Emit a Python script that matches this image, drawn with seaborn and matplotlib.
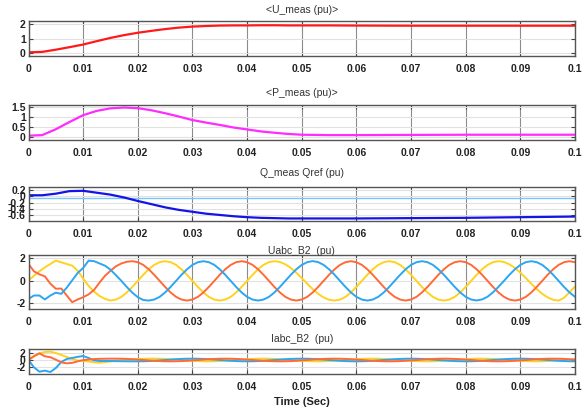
import numpy as np
import pandas as pd
import matplotlib
matplotlib.use('Agg')
import matplotlib.pyplot as plt
import seaborn as sns

# slow signals
t_slow = [0, 0.0025, 0.005, 0.0075, 0.01, 0.0125, 0.015, 0.0175, 0.02, 0.0225, 0.025, 0.0275, 0.03,
          0.0325, 0.035, 0.0375, 0.04, 0.0425, 0.045, 0.0475, 0.05, 0.055, 0.06, 0.07, 0.08, 0.09, 0.1]
u_meas = [0.07, 0.1, 0.25, 0.42, 0.6, 0.83, 1.05, 1.24, 1.4, 1.53, 1.65, 1.75, 1.82,
          1.86, 1.89, 1.9, 1.9, 1.91, 1.91, 1.9, 1.9, 1.9, 1.89, 1.88, 1.88, 1.88, 1.88]
p_meas = [0.05, 0.08, 0.38, 0.75, 1.1, 1.32, 1.45, 1.49, 1.46, 1.35, 1.2, 1.03, 0.85,
          0.72, 0.6, 0.47, 0.37, 0.27, 0.2, 0.14, 0.1, 0.08, 0.08, 0.09, 0.1, 0.1, 0.1]
q_meas = [0.03, 0.03, 0.08, 0.16, 0.17, 0.11, 0.05, -0.04, -0.15, -0.25, -0.35, -0.43, -0.49,
          -0.55, -0.59, -0.63, -0.66, -0.68, -0.69, -0.7, -0.7, -0.7, -0.7, -0.69, -0.68, -0.66, -0.64]
t_ref = [0, 0.1]
q_ref = [-0.07, -0.07]

# three phase traces, one sample per ms
t_wave = np.round(np.arange(101) * 0.001, 3)
ua_blue = [-1.6, -1.3, -1.3, -1.65, -1.3, -1.05, -1.15, -0.6, 0.05, 0.7, 1.15, 1.8, 1.75, 1.55, 1.35, 1.0, 0.5, 0.0, -0.55, -1.05, -1.45, -1.7, -1.75,
           -1.66, -1.42, -1.03, -0.54, 0.0, 0.54, 1.03, 1.42, 1.66, 1.75,
           1.66, 1.42, 1.03, 0.54, 0.0, -0.54, -1.03, -1.42, -1.66, -1.75,
           -1.66, -1.42, -1.03, -0.54, 0.0, 0.54, 1.03, 1.42, 1.66, 1.76,
           1.67, 1.42, 1.03, 0.54, 0.0, -0.54, -1.03, -1.42, -1.66, -1.75,
           -1.66, -1.42, -1.03, -0.54, 0.0, 0.54, 1.03, 1.42, 1.66, 1.75,
           1.66, 1.42, 1.03, 0.54, 0.0, -0.54, -1.03, -1.42, -1.66, -1.74,
           -1.65, -1.41, -1.02, -0.53, 0.0, 0.54, 1.03, 1.42, 1.66, 1.75,
           1.66, 1.42, 1.03, 0.54, 0.0, -0.54, -1.03, -1.42]
ua_orange = [1.5, 0.85, 0.58, 0.4, -0.25, -0.7, -0.68, -1.3, -1.9, -1.65, -1.45, -1.2, -0.8, -0.15, 0.45, 0.9, 1.3, 1.55, 1.7, 1.75,
             1.66, 1.42, 1.03, 0.54, 0.0, -0.54, -1.03, -1.42, -1.66, -1.75,
             -1.66, -1.42, -1.03, -0.54, 0.0, 0.54, 1.03, 1.42, 1.66, 1.75,
             1.66, 1.42, 1.03, 0.54, 0.0, -0.54, -1.03, -1.42, -1.66, -1.75,
             -1.66, -1.42, -1.03, -0.54, 0.0, 0.54, 1.03, 1.42, 1.66, 1.75,
             1.66, 1.42, 1.03, 0.54, 0.0, -0.54, -1.03, -1.42, -1.66, -1.75,
             -1.66, -1.42, -1.03, -0.54, 0.0, 0.54, 1.03, 1.42, 1.66, 1.75,
             1.66, 1.42, 1.03, 0.54, 0.0, -0.54, -1.03, -1.42, -1.66, -1.75,
             -1.66, -1.42, -1.03, -0.54, 0.0, 0.54, 1.03, 1.42, 1.66, 1.75,
             1.66]
ua_yellow = [0.05, 0.45, 0.85, 1.2, 1.5, 1.8, 1.65, 1.5, 1.35, 0.9, 0.2, -0.45, -0.95, -1.35, -1.6, -1.75,
             -1.66, -1.42, -1.03, -0.54, 0.0, 0.54, 1.03, 1.42, 1.66, 1.75,
             1.66, 1.42, 1.03, 0.54, 0.0, -0.54, -1.03, -1.42, -1.66, -1.75,
             -1.66, -1.42, -1.03, -0.54, 0.0, 0.54, 1.03, 1.42, 1.66, 1.75,
             1.68, 1.47, 1.15, 0.73, 0.25, -0.25, -0.73, -1.15, -1.47, -1.68, -1.75,
             -1.66, -1.42, -1.03, -0.54, 0.0, 0.54, 1.03, 1.42, 1.66, 1.75,
             1.66, 1.42, 1.03, 0.54, 0.0, -0.54, -1.03, -1.42, -1.66, -1.75,
             -1.66, -1.42, -1.03, -0.54, 0.0, 0.54, 1.03, 1.42, 1.66, 1.75,
             1.68, 1.47, 1.15, 0.73, 0.25, -0.25, -0.73, -1.15, -1.47, -1.68, -1.75,
             -1.5, -1.0, -0.5]

ia_yellow = [0.0, 1.0, 2.0, 2.4, 2.5, 2.1, 1.5, 0.9, 0.3, -0.15, -0.25, -0.45, -0.7, -0.8, -0.65, -0.45, -0.25, -0.05, 0.1, 0.22, 0.3, 0.36, 0.39, 0.4,
             0.38, 0.32, 0.24, 0.12, 0.0, -0.12, -0.24, -0.32, -0.38, -0.4,
             -0.38, -0.32, -0.24, -0.12, 0.0, 0.12, 0.24, 0.32, 0.38, 0.4,
             0.38, 0.32, 0.24, 0.12, 0.0, -0.12, -0.24, -0.32, -0.38, -0.4,
             -0.38, -0.32, -0.24, -0.12, 0.0, 0.12, 0.24, 0.32, 0.38, 0.4,
             0.38, 0.32, 0.24, 0.12, 0.0, -0.12, -0.24, -0.32, -0.38, -0.4,
             -0.38, -0.32, -0.24, -0.12, 0.0, 0.12, 0.24, 0.32, 0.38, 0.4,
             0.38, 0.32, 0.24, 0.12, 0.0, -0.12, -0.24, -0.32, -0.38, -0.4,
             -0.38, -0.32, -0.24, -0.12, 0.0, 0.12, 0.24]
ia_blue = [0.0, -2.2, -3.5, -3.2, -3.6, -2.4, -0.6, 0.3, 0.6, 0.95, 1.2, 0.6, -0.1, -0.3,
           -0.3, -0.3, -0.34, -0.37, -0.39, -0.4, -0.4,
           -0.38, -0.32, -0.24, -0.12, 0.0, 0.12, 0.24, 0.32, 0.38, 0.4,
           0.38, 0.32, 0.24, 0.12, 0.0, -0.12, -0.24, -0.32, -0.38, -0.4,
           -0.38, -0.32, -0.24, -0.12, 0.0, 0.12, 0.24, 0.32, 0.38, 0.4,
           0.38, 0.32, 0.24, 0.12, 0.0, -0.12, -0.24, -0.32, -0.38, -0.4,
           -0.38, -0.32, -0.24, -0.12, 0.0, 0.12, 0.24, 0.32, 0.38, 0.4,
           0.38, 0.32, 0.24, 0.12, 0.0, -0.12, -0.24, -0.32, -0.38, -0.4,
           -0.38, -0.32, -0.24, -0.12, 0.0, 0.12, 0.24, 0.32, 0.38, 0.4,
           0.38, 0.32, 0.24, 0.12, 0.0, -0.12, -0.24, -0.32, -0.38, -0.4]
ia_orange = [0.0, 1.2, 2.0, 1.1, 0.85, 0.1, -0.7, -1.0, -0.85, -0.4, -0.05, 0.15, 0.28, 0.35, 0.38, 0.4, 0.4,
             0.38, 0.32, 0.24, 0.12, 0.0, -0.12, -0.24, -0.32, -0.38, -0.4,
             -0.38, -0.32, -0.24, -0.12, 0.0, 0.12, 0.24, 0.32, 0.38, 0.4,
             0.38, 0.32, 0.24, 0.12, 0.0, -0.12, -0.24, -0.32, -0.38, -0.4,
             -0.38, -0.32, -0.24, -0.12, 0.0, 0.12, 0.24, 0.32, 0.38, 0.4,
             0.38, 0.32, 0.24, 0.12, 0.0, -0.12, -0.24, -0.32, -0.38, -0.4,
             -0.38, -0.32, -0.24, -0.12, 0.0, 0.12, 0.24, 0.32, 0.38, 0.4,
             0.38, 0.32, 0.24, 0.12, 0.0, -0.12, -0.24, -0.32, -0.38, -0.4,
             -0.38, -0.32, -0.24, -0.12, 0.0, 0.12, 0.24, 0.32, 0.38, 0.4,
             0.38, 0.32, 0.24, 0.12]

x_ticks = [0, 0.01, 0.02, 0.03, 0.04, 0.05, 0.06, 0.07, 0.08, 0.09, 0.1]
x_labels = ['0', '0.01', '0.02', '0.03', '0.04', '0.05', '0.06', '0.07', '0.08', '0.09', '0.1']
titles = ['<U_meas (pu)>', '<P_meas (pu)>', 'Q_meas Qref (pu)', 'Uabc_B2  (pu)', 'Iabc_B2  (pu)']

sns.set_theme(style='white')
plt.rcParams['font.family'] = ['Liberation Sans Narrow', 'Liberation Sans', 'DejaVu Sans']

slow = pd.DataFrame({'t': t_slow, 'U': u_meas, 'P': p_meas, 'Q': q_meas})
ref = pd.DataFrame({'t': t_ref, 'Qref': q_ref})
wave = pd.DataFrame({'t': t_wave, 'ua_y': ua_yellow, 'ua_b': ua_blue, 'ua_o': ua_orange,
                     'ia_y': ia_yellow, 'ia_b': ia_blue, 'ia_o': ia_orange})

fig = plt.figure(figsize=(5.86, 4.09), dpi=100)
# axes boxes in pixels: top, bottom
boxes = [(21, 56), (105, 140), (187, 221), (255, 309), (349, 374)]
title_y = [10, 93, 173, 251, 339]
left, right = 28.5, 575
axes = []
for top, bot in boxes:
    ax = fig.add_axes([left / 586, 1 - bot / 409, (right - left) / 586, (bot - top) / 409])
    axes.append(ax)

yellow, blue, orange = '#ffd21f', '#2ba6f2', '#ff6a38'

sns.lineplot(data=slow, x='t', y='U', ax=axes[0], color='#ff1a1a', lw=1.6, estimator=None)
sns.lineplot(data=slow, x='t', y='P', ax=axes[1], color='#ff2bff', lw=1.6, estimator=None)
sns.lineplot(data=ref, x='t', y='Qref', ax=axes[2], color='#7cc4ff', lw=1.0, estimator=None)
sns.lineplot(data=slow, x='t', y='Q', ax=axes[2], color='#1414e6', lw=1.6, estimator=None)
for col, c in [('ua_y', yellow), ('ua_o', orange), ('ua_b', blue)]:
    sns.lineplot(data=wave, x='t', y=col, ax=axes[3], color=c, lw=1.4, estimator=None)
for col, c in [('ia_y', yellow), ('ia_b', blue), ('ia_o', orange)]:
    sns.lineplot(data=wave, x='t', y=col, ax=axes[4], color=c, lw=1.4, estimator=None)

ylims = [(-0.18, 2.2), (-0.17, 1.62), (-0.78, 0.29), (-2.5, 2.3), (-4.2, 3.3)]
yticks = [[0, 1, 2], [0, 0.5, 1, 1.5], [-0.6, -0.4, -0.2, 0, 0.2], [-2, 0, 2], [-2, 0, 2]]
ylabs = [['0', '1', '2'], ['0', '0.5', '1', '1.5'], ['-0.6', '-0.4', '-0.2', '0', '0.2'],
         ['-2', '0', '2'], ['-2', '0', '2']]

for i, ax in enumerate(axes):
    ax.set_xlim(0, 0.1)
    ax.set_ylim(*ylims[i])
    ax.set_xticks(x_ticks)
    ax.set_xticklabels(x_labels, fontsize=7.5, fontweight='bold', color='#222222')
    ax.set_yticks(yticks[i])
    ax.set_yticklabels(ylabs[i], fontsize=7.5, fontweight='bold', color='#222222')
    ax.tick_params(direction='in', length=3, width=0.8, color='#444444', top=True, right=True,
                   bottom=True, left=True, pad=6)
    ax.tick_params(axis='y', pad=2)
    ax.grid(axis='x', color='#8c8c8c', lw=0.8)
    ax.grid(axis='y', color='#e2e2e2', lw=0.8)
    for s in ax.spines.values():
        s.set_color('#555555')
        s.set_linewidth(1.0)
    ax.set_xlabel('')
    ax.set_ylabel('')
    fig.text((left + right) / 2 / 586, 1 - title_y[i] / 409, titles[i], ha='center', va='center',
             fontsize=7.5, color='#333333')

fig.text((left + right) / 2 / 586, 1 - 402 / 409, 'Time (Sec)', ha='center', va='center',
         fontsize=8, fontweight='bold', color='#222222')

fig.savefig('out.png', dpi=100, facecolor='white')
